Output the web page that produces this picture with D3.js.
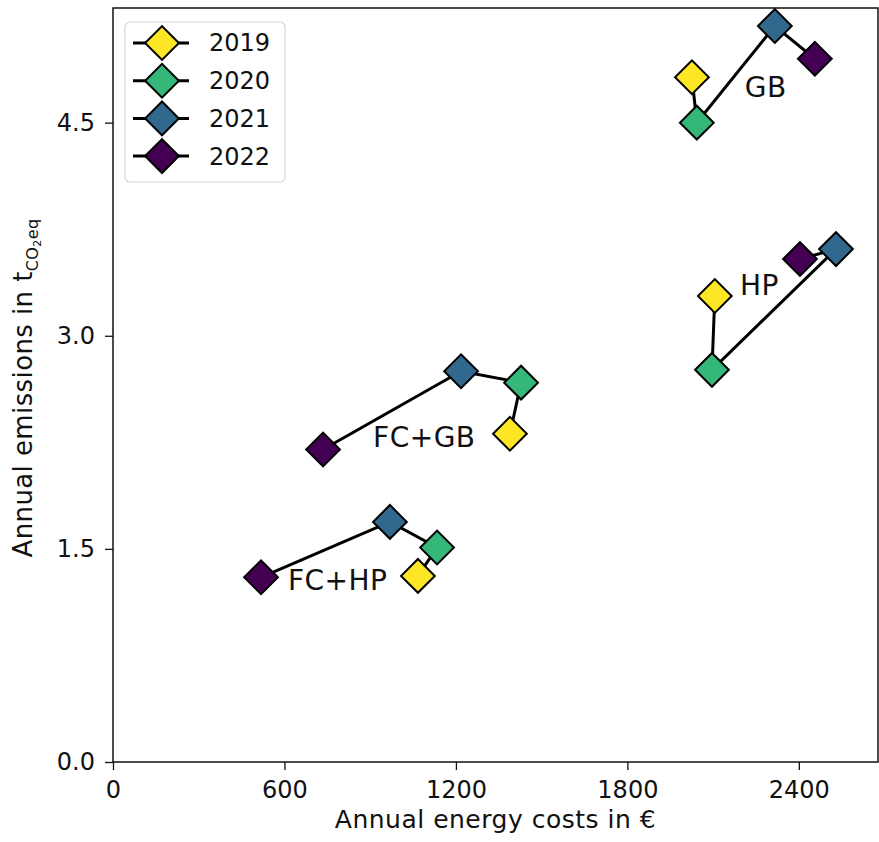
<!DOCTYPE html>
<html>
<head>
<meta charset="utf-8">
<script src="https://cdn.jsdelivr.net/npm/d3@7"></script>
<style>
  body { margin: 0; background: #fff; }
  text { font-family: "DejaVu Sans", sans-serif; fill: #111; }
</style>
</head>
<body>
<div id="container"></div>
<script>
const width = 879
const height = 842
const margin = { top: 8, right: 1, bottom: 80, left: 113 }

const years = ['2019', '2020', '2021', '2022']
const colors = ['#fde725', '#35b779', '#31688e', '#440154']

const systems = ['GB', 'HP', 'FC+GB', 'FC+HP']
// costs in € per year, one entry per year 2019..2022
const costs = {
  'GB': [2026, 2043, 2316, 2456],
  'HP': [2106, 2096, 2530, 2404],
  'FC+GB': [1389, 1428, 1218, 735],
  'FC+HP': [1067, 1134, 969, 518]
}
// emissions in t CO2eq per year
const emissions = {
  'GB': [4.82, 4.50, 5.18, 4.95],
  'HP': [3.28, 2.76, 3.61, 3.54],
  'FC+GB': [2.31, 2.67, 2.75, 2.20],
  'FC+HP': [1.31, 1.51, 1.69, 1.30]
}
// where the system name is written (data coords, text baseline start)
const labelAt = {
  'GB': [2211, 4.68],
  'HP': [2194, 3.29],
  'FC+GB': [910, 2.22],
  'FC+HP': [612, 1.21]
}

const xTicks = [0, 600, 1200, 1800, 2400]
const yTicks = [0, 1.5, 3.0, 4.5]

const svg = d3.select('#container')
  .append('svg')
  .attr('width', width)
  .attr('height', height)

const x = d3.scaleLinear()
  .domain([0, 2677])
  .range([margin.left, width - margin.right])

const y = d3.scaleLinear()
  .domain([0, 5.307])
  .range([height - margin.bottom, margin.top])

// axes
const xAxis = svg.append('g')
  .attr('transform', `translate(0,${height - margin.bottom})`)
  .call(d3.axisBottom(x).tickValues(xTicks).tickSize(8).tickPadding(11).tickFormat(d3.format('d')))
const yAxis = svg.append('g')
  .attr('transform', `translate(${margin.left},0)`)
  .call(d3.axisLeft(y).tickValues(yTicks).tickSize(8).tickPadding(10).tickFormat(d3.format('.1f')))

for (const g of [xAxis, yAxis]) {
  g.select('.domain').remove()
  g.selectAll('line').attr('stroke', '#111').attr('stroke-width', 1.3)
  g.selectAll('text').attr('font-size', 24).attr('font-family', 'DejaVu Sans').attr('fill', '#111')
}

// frame
svg.append('rect')
  .attr('x', margin.left)
  .attr('y', margin.top)
  .attr('width', width - margin.right - margin.left)
  .attr('height', height - margin.bottom - margin.top)
  .attr('fill', 'none')
  .attr('stroke', '#111')
  .attr('stroke-width', 1.5)

// axis labels
svg.append('text')
  .attr('x', (margin.left + width - margin.right) / 2)
  .attr('y', 828)
  .attr('text-anchor', 'middle')
  .attr('font-size', 25)
  .attr('letter-spacing', 0.5)
  .text('Annual energy costs in €')

const yl = svg.append('text')
  .attr('transform', `translate(32,388) rotate(-90)`)
  .attr('text-anchor', 'middle')
  .attr('font-size', 26)
  .attr('letter-spacing', 0.4)
yl.append('tspan').text('Annual emissions in t')
yl.append('tspan').attr('font-size', 16).attr('dy', 6).text('CO')
yl.append('tspan').attr('font-size', 11).attr('dy', 3).text('2')
yl.append('tspan').attr('font-size', 16).attr('dy', -3).text('eq')

const diamond = d3.symbol().type(d3.symbolSquare).size(570)

// series
for (const s of systems) {
  const pts = years.map((yr, i) => ({ x: costs[s][i], y: emissions[s][i], i }))
  svg.append('path')
    .datum(pts)
    .attr('d', d3.line().x(d => x(d.x)).y(d => y(d.y)))
    .attr('fill', 'none')
    .attr('stroke', '#000')
    .attr('stroke-width', 3)
  svg.selectAll(null)
    .data(pts)
    .enter()
    .append('path')
    .attr('d', diamond)
    .attr('transform', d => `translate(${x(d.x)},${y(d.y)}) rotate(45)`)
    .attr('fill', d => colors[d.i])
    .attr('stroke', '#000')
    .attr('stroke-width', 2)
  svg.append('text')
    .attr('x', x(labelAt[s][0]))
    .attr('y', y(labelAt[s][1]))
    .attr('font-size', 28)
    .attr('letter-spacing', 0.5)
    .text(s)
}

// legend
const lg = svg.append('g').attr('transform', 'translate(125,22)')
lg.append('rect')
  .attr('width', 160)
  .attr('height', 160)
  .attr('rx', 5)
  .attr('fill', '#fff')
  .attr('fill-opacity', 0.8)
  .attr('stroke', '#d6d6d6')
  .attr('stroke-width', 1.2)
const items = lg.selectAll('g.item')
  .data(years)
  .enter()
  .append('g')
  .attr('transform', (d, i) => `translate(0,${21 + i * 37.7})`)
items.append('line')
  .attr('x1', 8).attr('x2', 64)
  .attr('stroke', '#000').attr('stroke-width', 3)
items.append('path')
  .attr('d', diamond)
  .attr('transform', 'translate(37,0) rotate(45)')
  .attr('fill', (d, i) => colors[i])
  .attr('stroke', '#000')
  .attr('stroke-width', 2)
items.append('text')
  .attr('x', 84)
  .attr('dy', '0.35em')
  .attr('font-size', 24)
  .text(d => d)
</script>
</body>
</html>
